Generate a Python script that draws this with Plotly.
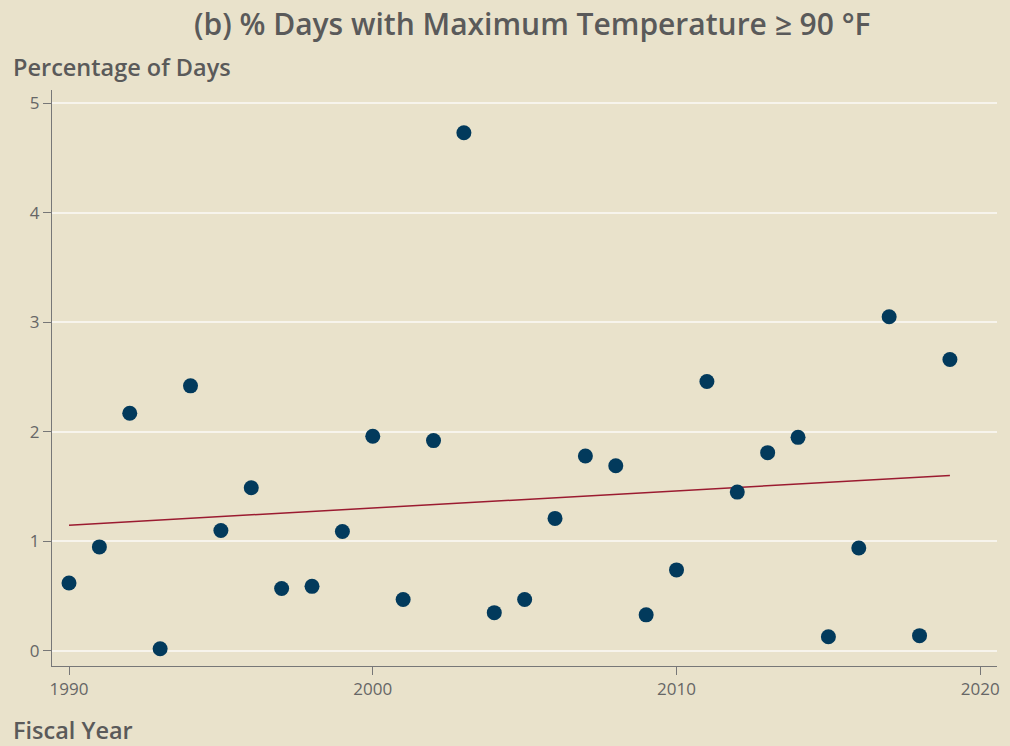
import numpy as np
import plotly.graph_objects as go

years = list(range(1990, 2020))
pct_days = [0.62, 0.95, 2.17, 0.02, 2.42, 1.10, 1.49, 0.57, 0.59, 1.09,
            1.96, 0.47, 1.92, 4.73, 0.35, 0.47, 1.21, 1.78, 1.69, 0.33,
            0.74, 2.46, 1.45, 1.81, 1.95, 0.13, 0.94, 3.05, 0.14, 2.66]

slope, intercept = np.polyfit(years, pct_days, 1)
trend_x = [years[0], years[-1]]
trend_y = [slope * x + intercept for x in trend_x]

bg = "#E9E2CB"
label_color = "#5a5a5a"
fig = go.Figure()
fig.add_trace(go.Scatter(x=trend_x, y=trend_y, mode="lines",
                         line=dict(color="#9B1B30", width=1.5), hoverinfo="skip"))
fig.add_trace(go.Scatter(x=years, y=pct_days, mode="markers",
                         marker=dict(color="#023A5C", size=15)))

pw, ph = 948, 576
fig.update_layout(
    width=1010, height=746, showlegend=False,
    paper_bgcolor=bg, plot_bgcolor=bg,
    margin=dict(l=52, r=10, t=90, b=80),
    font=dict(family="Open Sans", color="#666666", size=17),
    title=dict(text="(b) % Days with Maximum Temperature ≥ 90 °F",
               x=0.527, xanchor="center", y=0.967, yanchor="middle",
               font=dict(size=30, color=label_color, weight=600)),
    annotations=[
        dict(text="Percentage of Days", xref="paper", yref="paper", x=-41 / pw, y=1.0,
             xanchor="left", yanchor="middle", yshift=23, showarrow=False,
             font=dict(size=23.5, color=label_color, weight=600)),
        dict(text="Fiscal Year", xref="paper", yref="paper", x=-41 / pw, y=-64 / ph,
             xanchor="left", yanchor="middle", showarrow=False,
             font=dict(size=23.5, color=label_color, weight=600)),
    ],
)
fig.update_xaxes(range=[1989.44, 2020.55], tickvals=[1990, 2000, 2010, 2020],
                 showgrid=False, zeroline=False, showline=True, linecolor="#777777",
                 linewidth=1, ticks="outside", ticklen=8, tickcolor="#777777")
fig.update_yaxes(range=[-0.137, 5.12], tickvals=[0, 1, 2, 3, 4, 5],
                 showgrid=True, gridcolor="#F7F4EC", gridwidth=1.5, zeroline=False,
                 showline=True, linecolor="#777777", linewidth=1,
                 ticks="outside", ticklen=8, tickcolor="#777777")
fig.write_html("out.html", config={"displayModeBar": False},
               post_script="document.body.style.margin='0';")
